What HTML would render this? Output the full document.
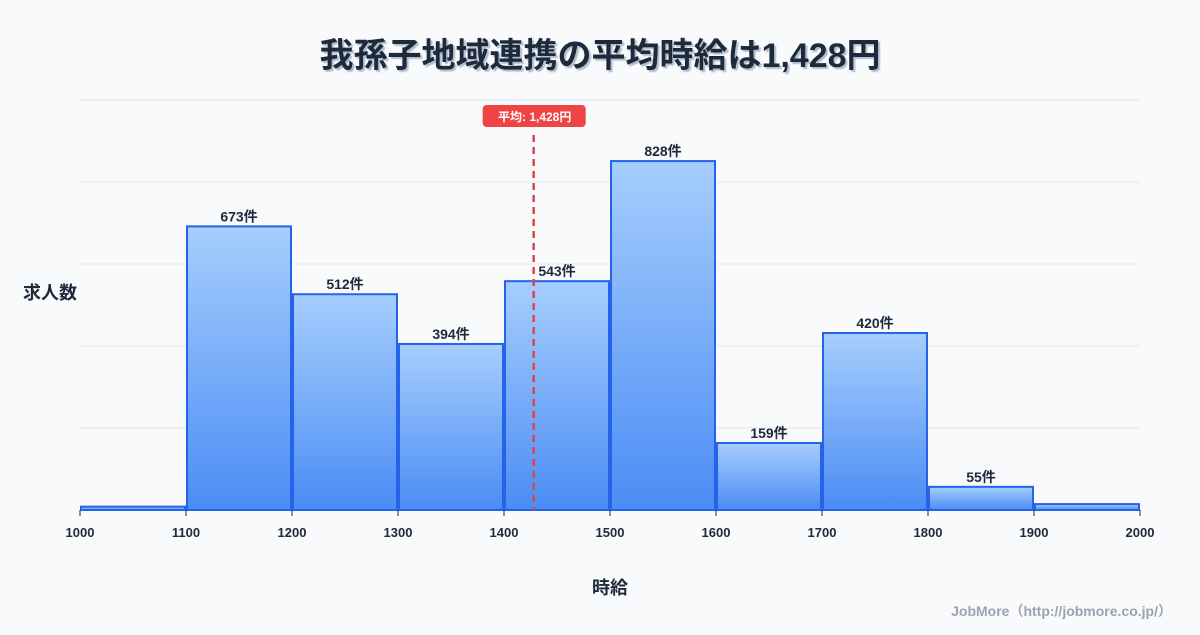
<!DOCTYPE html>
<html><head><meta charset="utf-8"><style>
body{margin:0;background:#f8fafc;font-family:"Liberation Sans","Noto Sans CJK JP",sans-serif;}
svg text{font-family:"Liberation Sans","Noto Sans CJK JP",sans-serif;}
</style></head><body>
<svg id="chart" width="1200" height="630" xmlns="http://www.w3.org/2000/svg">
<defs>
<linearGradient id="bg" x1="0" y1="0" x2="0" y2="1"><stop offset="0" stop-color="#a6cefd"/><stop offset="1" stop-color="#4b8cf5"/></linearGradient>
<filter id="ts"><feDropShadow dx="2" dy="2" stdDeviation="0.5" flood-color="#94a3b8" flood-opacity="0.7"/></filter>
</defs>
<rect width="1200" height="630" fill="#f8fafc"/>
<text x="600" y="67" text-anchor="middle" font-size="34" font-weight="bold" fill="#1e293b" filter="url(#ts)">我孫子地域連携の平均時給は1,428円</text>
<g id="grid"></g><g id="bars"></g><g id="axis"></g><g id="mean"></g>
<text x="50" y="299" text-anchor="middle" font-size="18" font-weight="bold" fill="#1e293b">求人数</text>
<text x="610" y="594" text-anchor="middle" font-size="18" font-weight="bold" fill="#1e293b">時給</text>
<text x="1172" y="616" text-anchor="end" font-size="14" font-weight="bold" fill="#9ca3af">JobMore（http://jobmore.co.jp/）</text>
</svg>
<script>
const binStarts=[1000,1100,1200,1300,1400,1500,1600,1700,1800,1900];
const counts=[8,673,512,394,543,828,159,420,55,14];
const showLabel=[false,true,true,true,true,true,true,true,true,false];
const xTicks=[1000,1100,1200,1300,1400,1500,1600,1700,1800,1900,2000];
const meanValue=1428;
const meanLabel="平均: 1,428円";
const ns="http://www.w3.org/2000/svg";
const X0=80,X1=1140,Y0=510,Y1=100,XMIN=1000,XMAX=2000,YMAX=Math.max(...counts)*1.175;
const x=v=>X0+(v-XMIN)/(XMAX-XMIN)*(X1-X0);
const y=v=>Y0-v/YMAX*(Y0-Y1);
function mk(t,a,p){const e=document.createElementNS(ns,t);for(const k in a)e.setAttribute(k,a[k]);p.appendChild(e);return e;}
const grid=document.getElementById('grid');
for(let i=0;i<=5;i++){const gy=Y0-i*(Y0-Y1)/5;
const l=mk('line',{x1:X0,x2:X1,y1:gy,y2:gy,stroke:'#e5e7eb','stroke-width':1},grid);

}
const bars=document.getElementById('bars');
const step=binStarts.length>1?binStarts[1]-binStarts[0]:100;
binStarts.forEach((b,i)=>{
const xl=x(b)+1,xr=x(b+step)-1,yt=y(counts[i]);
const r=mk('rect',{x:xl,y:yt,width:xr-xl,height:Y0-yt,fill:'url(#bg)',stroke:'#2563eb','stroke-width':2},bars);


if(showLabel[i]){const t=mk('text',{x:(xl+xr)/2,y:yt-5,'text-anchor':'middle','font-size':14,'font-weight':'bold',fill:'#1e293b'},bars);t.textContent=counts[i]+'件';

}
});
const ax=document.getElementById('axis');
xTicks.forEach(v=>{
const tl=mk('line',{x1:x(v),x2:x(v),y1:Y0,y2:Y0+6,stroke:'#1e293b','stroke-width':1},ax);


const t=mk('text',{x:x(v),y:Y0+27,'text-anchor':'middle','font-size':13,'font-weight':'bold',fill:'#1e293b'},ax);t.textContent=v;


});
const mg=document.getElementById('mean');
const mx=x(meanValue);
const ml=mk('line',{x1:mx,x2:mx,y1:135,y2:Y0,stroke:'#e04545','stroke-width':2.5,'stroke-dasharray':'7,5'},mg);


const mb=mk('rect',{x:mx-51,y:105,width:103,height:22,rx:4,fill:'#ef4444'},mg);


const mt=mk('text',{x:mx+1,y:121,'text-anchor':'middle','font-size':12,'font-weight':'bold',fill:'#fff'},mg);mt.textContent=meanLabel;


</script>
</body></html>
